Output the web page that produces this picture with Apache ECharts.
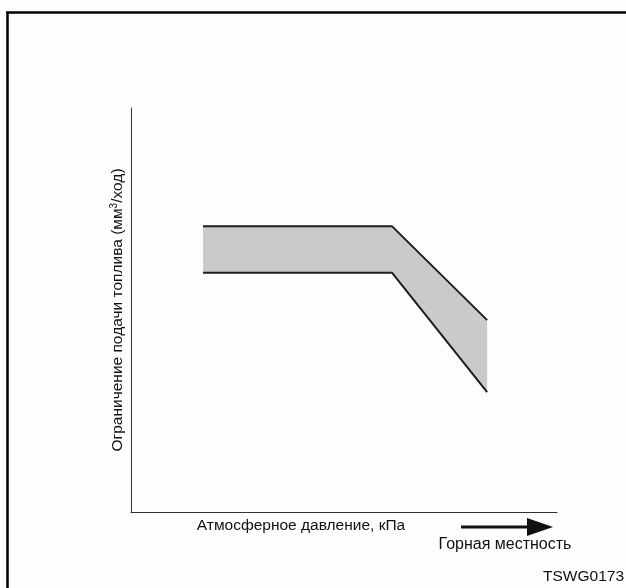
<!DOCTYPE html>
<html><head><meta charset="utf-8">
<script src="https://cdn.jsdelivr.net/npm/echarts@6/dist/echarts.min.js"></script>
<style>html,body{margin:0;padding:0;background:#fdfdfd}#c{width:626px;height:588px}</style>
</head><body><div id="c"></div>
<script>
// Data (relative units)
const xPoints = [16.9, 61.3, 83.6];
const upperLimit = [70.7, 70.7, 47.5];
const lowerLimit = [59.2, 59.2, 29.7];
const xAxisTitle = 'Атмосферное давление, кПа';
const yAxisTitle = 'Ограничение подачи топлива (мм{sup|3}/ход)';
const arrowLabel = 'Горная местность';
const figureCode = 'TSWG0173';

const lowerData = xPoints.map((x, i) => [x, lowerLimit[i]]);
const upperData = xPoints.map((x, i) => [x, upperLimit[i]]);

const chart = echarts.init(document.getElementById('c'), null, {renderer: 'canvas'});
const font = 'Liberation Sans, Arial, sans-serif';
chart.setOption({
  backgroundColor: '#fdfdfd',
  animation: false,
  grid: {left: 131, right: 69, top: 108, bottom: 76, containLabel: false},
  xAxis: {
    type: 'value', min: 0, max: 100,
    axisLine: {show: true, lineStyle: {color: '#333', width: 1}},
    axisTick: {show: false}, axisLabel: {show: false}, splitLine: {show: false}
  },
  yAxis: {
    type: 'value', min: 0, max: 100,
    name: yAxisTitle, nameLocation: 'middle', nameRotate: 90, nameGap: 5,
    nameTextStyle: {
      fontFamily: font, fontSize: 15.5, color: '#111',
      rich: {sup: {fontSize: 10, verticalAlign: 'top', padding: [0, 0, 7, 0], color: '#111', fontFamily: font}}
    },
    axisLine: {show: true, lineStyle: {color: '#333', width: 1}},
    axisTick: {show: false}, axisLabel: {show: false}, splitLine: {show: false}
  },
  series: [
    {
      type: 'custom', silent: true, z: 2,
      data: [0],
      renderItem: function (params, api) {
        const pts = upperData.map(p => api.coord(p))
          .concat(lowerData.slice().reverse().map(p => api.coord(p)));
        return {type: 'polygon', shape: {points: pts}, style: {fill: '#c9cacc', stroke: null}};
      }
    },
    {type: 'line', data: upperData, symbol: 'none', lineStyle: {color: '#1e1e1e', width: 2}, z: 5},
    {type: 'line', data: lowerData, symbol: 'none', lineStyle: {color: '#1e1e1e', width: 2}, z: 5}
  ],
  graphic: [
    {type: 'line', shape: {x1: 7.5, y1: 12, x2: 7.5, y2: 588}, style: {stroke: '#000', lineWidth: 2.5}},
    {type: 'line', shape: {x1: 6, y1: 12.5, x2: 626, y2: 12.5}, style: {stroke: '#000', lineWidth: 2.5}},
    {type: 'text', x: 301, y: 526, style: {text: xAxisTitle, font: '15.5px ' + font, fill: '#111', textAlign: 'center', textVerticalAlign: 'middle'}},
    {type: 'line', shape: {x1: 461, y1: 527, x2: 532, y2: 527}, style: {stroke: '#111', lineWidth: 3}},
    {type: 'polygon', shape: {points: [[527, 518], [553, 527], [527, 536]]}, style: {fill: '#111'}},
    {type: 'text', x: 505, y: 545, style: {text: arrowLabel, font: '16px ' + font, fill: '#111', textAlign: 'center', textVerticalAlign: 'middle'}},
    {type: 'text', x: 624, y: 577, style: {text: figureCode, font: '15.5px ' + font, fill: '#111', textAlign: 'right', textVerticalAlign: 'middle'}}
  ]
});
</script></body></html>
